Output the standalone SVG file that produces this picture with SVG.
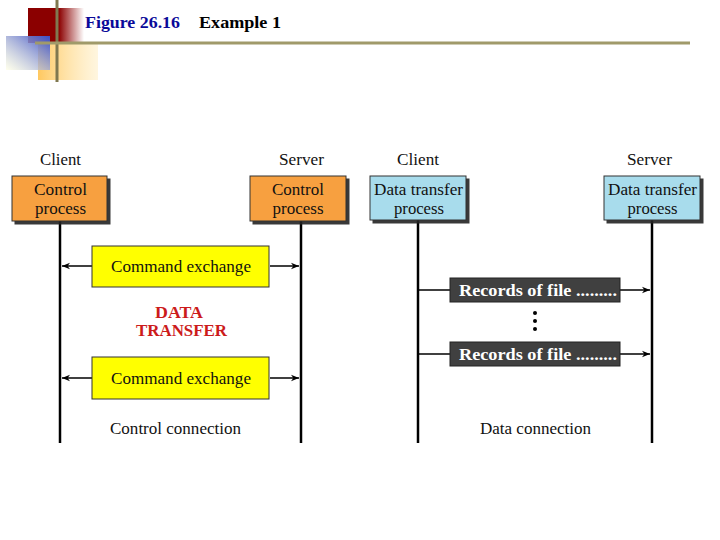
<svg xmlns="http://www.w3.org/2000/svg" width="720" height="540" viewBox="0 0 720 540">
<defs>
<linearGradient id="gRed" x1="0" y1="0" x2="1" y2="0">
<stop offset="0" stop-color="#8B0000"/><stop offset="0.55" stop-color="#8B0000"/><stop offset="1" stop-color="#8B0000" stop-opacity="0"/>
</linearGradient>
<linearGradient id="gBlue" x1="1" y1="0" x2="0" y2="1">
<stop offset="0" stop-color="#3A4FC8"/><stop offset="1" stop-color="#FFFFE0" stop-opacity="0.6"/>
</linearGradient>
<linearGradient id="gOr" x1="0" y1="0" x2="1" y2="0">
<stop offset="0" stop-color="#FFC860"/><stop offset="1" stop-color="#FFE8B0" stop-opacity="0.4"/>
</linearGradient>
<marker id="ah" viewBox="0 0 10 10" refX="10" refY="5" markerWidth="10" markerHeight="8" markerUnits="userSpaceOnUse" orient="auto-start-reverse">
<path d="M0,1 L10,5 L0,9 L3,5 Z" fill="#000"/>
</marker>
<filter id="sh" x="-5%" y="-5%" width="115%" height="125%">
<feDropShadow dx="3" dy="3" stdDeviation="0.6" flood-color="#222" flood-opacity="0.9"/>
</filter>
</defs>
<style>
.lbl{font-family:"Liberation Serif","Times New Roman",serif;font-size:16px;fill:#111;text-anchor:middle}
.box{stroke:#333;stroke-width:1}
.orange{fill:#F7A040}
.blue{fill:#A8DCEC}
.yellow{fill:#FFFF00}
.dark{fill:#404040;stroke:#222}
.life{stroke:#000;stroke-width:2.5}
.arr{stroke:#000;stroke-width:1.5;fill:none}
.rec{font-family:"Liberation Serif","Times New Roman",serif;font-size:16px;font-weight:bold;fill:#fff;text-anchor:middle}
.red{font-family:"Liberation Serif","Times New Roman",serif;font-size:16px;font-weight:bold;fill:#CC1B1B;text-anchor:middle}
.ttl{font-family:"Liberation Serif","Times New Roman",serif;font-size:17px;font-weight:bold}
</style>
<g id="header">
<rect x="28" y="8" width="56" height="35" fill="url(#gRed)"/>
<rect x="38" y="44" width="60" height="36" fill="url(#gOr)"/>
<rect x="6" y="36" width="44" height="34" fill="url(#gBlue)"/>
<line x1="57" y1="0" x2="57" y2="82" stroke="#807850" stroke-width="3"/>
<line x1="35" y1="43" x2="690" y2="43" stroke="#A09A6A" stroke-width="3"/>
<text class="ttl" x="85" y="28" fill="#0A0A99" textLength="95" lengthAdjust="spacingAndGlyphs">Figure 26.16</text>
<text class="ttl" x="199" y="28" fill="#000" textLength="82" lengthAdjust="spacingAndGlyphs">Example 1</text>
</g>
<g id="connectors">
<line class="life" x1="60" y1="221" x2="60" y2="443"/>
<line class="life" x1="301" y1="221" x2="301" y2="443"/>
<line class="life" x1="418" y1="220" x2="418" y2="443"/>
<line class="life" x1="652" y1="220" x2="652" y2="443"/>
<line class="arr" x1="92" y1="266" x2="62" y2="266" marker-end="url(#ah)"/>
<line class="arr" x1="270" y1="266" x2="299" y2="266" marker-end="url(#ah)"/>
<line class="arr" x1="92" y1="378" x2="62" y2="378" marker-end="url(#ah)"/>
<line class="arr" x1="270" y1="378" x2="299" y2="378" marker-end="url(#ah)"/>
<line class="arr" x1="419" y1="290" x2="450" y2="290"/>
<line class="arr" x1="620" y1="290" x2="650" y2="290" marker-end="url(#ah)"/>
<line class="arr" x1="419" y1="354" x2="450" y2="354"/>
<line class="arr" x1="620" y1="354" x2="650" y2="354" marker-end="url(#ah)"/>
</g>
<g id="client-control">
<text class="lbl" x="60.5" y="165" textLength="41" lengthAdjust="spacingAndGlyphs">Client</text>
<rect class="box orange" x="12" y="176" width="95" height="45" filter="url(#sh)"/>
<text class="lbl" x="60.5" y="195" textLength="53" lengthAdjust="spacingAndGlyphs">Control</text>
<text class="lbl" x="60.5" y="214" textLength="51" lengthAdjust="spacingAndGlyphs">process</text>
</g>
<g id="server-control">
<text class="lbl" x="301.5" y="165" textLength="45" lengthAdjust="spacingAndGlyphs">Server</text>
<rect class="box orange" x="250" y="176" width="96" height="45" filter="url(#sh)"/>
<text class="lbl" x="298" y="195" textLength="52" lengthAdjust="spacingAndGlyphs">Control</text>
<text class="lbl" x="298" y="214" textLength="51" lengthAdjust="spacingAndGlyphs">process</text>
</g>
<g id="client-data">
<text class="lbl" x="418" y="165" textLength="42" lengthAdjust="spacingAndGlyphs">Client</text>
<rect class="box blue" x="370" y="176" width="96" height="44" filter="url(#sh)"/>
<text class="lbl" x="418.5" y="195" textLength="89" lengthAdjust="spacingAndGlyphs">Data transfer</text>
<text class="lbl" x="419" y="214" textLength="50" lengthAdjust="spacingAndGlyphs">process</text>
</g>
<g id="server-data">
<text class="lbl" x="649.5" y="165" textLength="45" lengthAdjust="spacingAndGlyphs">Server</text>
<rect class="box blue" x="604" y="176" width="96" height="44" filter="url(#sh)"/>
<text class="lbl" x="652.5" y="195" textLength="89" lengthAdjust="spacingAndGlyphs">Data transfer</text>
<text class="lbl" x="652.5" y="214" textLength="50" lengthAdjust="spacingAndGlyphs">process</text>
</g>
<g id="cmd1">
<rect class="box yellow" x="92" y="246" width="177" height="41"/>
<text class="lbl" x="181" y="272" textLength="140" lengthAdjust="spacingAndGlyphs">Command exchange</text>
</g>
<g id="data-transfer">
<text class="red" x="179" y="318" textLength="48" lengthAdjust="spacingAndGlyphs">DATA</text>
<text class="red" x="181.5" y="336" textLength="91" lengthAdjust="spacingAndGlyphs">TRANSFER</text>
</g>
<g id="cmd2">
<rect class="box yellow" x="92" y="357" width="177" height="42"/>
<text class="lbl" x="181" y="384" textLength="140" lengthAdjust="spacingAndGlyphs">Command exchange</text>
</g>
<g id="control-connection">
<text class="lbl" x="175.5" y="434" textLength="131" lengthAdjust="spacingAndGlyphs">Control connection</text>
</g>
<g id="rec1">
<rect class="box dark" x="450" y="278" width="170" height="24"/>
<text class="rec" x="538" y="296" textLength="158" lengthAdjust="spacingAndGlyphs">Records of file .........</text>
</g>
<g id="dots">
<circle cx="535" cy="313" r="2" fill="#000"/>
<circle cx="535" cy="321" r="2" fill="#000"/>
<circle cx="535" cy="329" r="2" fill="#000"/>
</g>
<g id="rec2">
<rect class="box dark" x="450" y="342" width="170" height="24"/>
<text class="rec" x="538" y="360" textLength="158" lengthAdjust="spacingAndGlyphs">Records of file .........</text>
</g>
<g id="data-connection">
<text class="lbl" x="535.5" y="434" textLength="111" lengthAdjust="spacingAndGlyphs">Data connection</text>
</g>
</svg>
